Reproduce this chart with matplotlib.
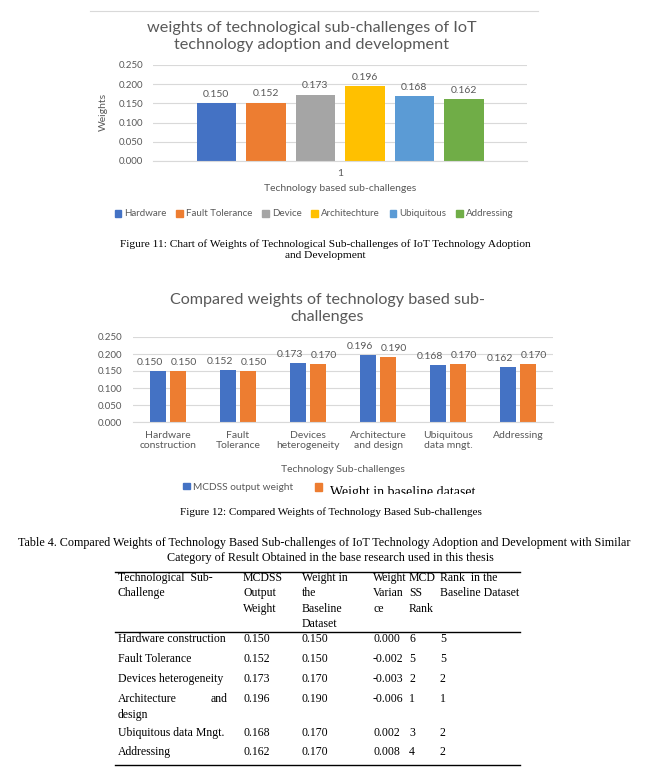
import matplotlib
matplotlib.use('Agg')
import matplotlib.pyplot as plt
from matplotlib.patches import Patch, Rectangle
from matplotlib.lines import Line2D
import numpy as np

# ---------------- data ----------------
legend_names = ['Hardware', 'Fault Tolerance', 'Device', 'Architechture', 'Ubiquitous', 'Addressing']
mcdss_weights = [0.150, 0.152, 0.173, 0.196, 0.168, 0.162]
baseline_weights = [0.150, 0.150, 0.170, 0.190, 0.170, 0.170]
cat_labels = ['Hardware\nconstruction', 'Fault\nTolerance', 'Devices\nheterogeneity',
              'Architecture\nand design', 'Ubiquitous\ndata mngt.', 'Addressing']
y_ticks = [0.0, 0.05, 0.10, 0.15, 0.20, 0.25]
series_names = ['MCDSS output weight', 'Weight in baseline dataset']
table_names = ['Hardware construction', 'Fault Tolerance', 'Devices heterogeneity',
               'Architecture and design', 'Ubiquitous data Mngt.', 'Addressing']
weight_variance = ['0.000', '-0.002', '-0.003', '-0.006', '0.002', '0.008']
mcdss_rank = [6, 5, 2, 1, 3, 4]
baseline_rank = [5, 5, 2, 1, 2, 2]
table_headers = [['Technological  Sub-', 'Challenge'],
                 ['MCDSS', 'Output', 'Weight'],
                 ['Weight in', 'the', 'Baseline', 'Dataset'],
                 ['Weight', 'Varian', 'ce'],
                 ['MCD', 'SS', 'Rank'],
                 ['Rank  in the', 'Baseline Dataset']]

# ---------------- style ----------------
W, H = 661, 774
fig = plt.figure(figsize=(W / 100, H / 100), dpi=100)
fig.patch.set_facecolor('white')

def fx(x):
    return x / W

def fy(y):
    return 1 - y / H

SANS = 'Lato'
SERIF = 'Liberation Serif'
TXT = '#595959'
GRID = '#D9D9D9'
colors1 = ['#4472C4', '#ED7D31', '#A5A5A5', '#FFC000', '#5B9BD5', '#70AD47']
BLUE, ORANGE = '#4472C4', '#ED7D31'

# thin border line at top of first chart
fig.add_artist(Line2D([fx(90), fx(538)], [fy(11), fy(11)], transform=fig.transFigure,
                      color=GRID, lw=0.8))

def style_axes(ax, pad):
    ax.set_ylim(0, 0.25)
    ax.set_yticks(y_ticks)
    ax.set_yticklabels([f'{t:.3f}' for t in y_ticks], fontsize=7, color=TXT, family=SANS)
    ax.tick_params(axis='both', length=0)
    ax.tick_params(axis='y', pad=pad)
    ax.yaxis.grid(True, color=GRID, lw=0.8)
    ax.set_axisbelow(True)
    for s in ['top', 'right', 'left']:
        ax.spines[s].set_visible(False)
    ax.spines['bottom'].set_color(GRID)
    ax.spines['bottom'].set_linewidth(0.8)

# ---------------- chart 1 ----------------
ax1 = fig.add_axes([fx(153), fy(161), (527 - 153) / W, (161 - 65) / H])
style_axes(ax1, 7)
n = len(mcdss_weights)
step = 49.5 / 374
bw = 39.5 / 374
pos1 = (np.arange(n) - (n - 1) / 2) * step
ax1.bar(pos1, mcdss_weights, width=bw, color=colors1, zorder=2)
ax1.set_xlim(-0.5, 0.5)
for x, v in zip(pos1, mcdss_weights):
    ax1.annotate(f'{v:.3f}', (x, v), xytext=(0, 3), textcoords='offset points',
                 ha='center', va='bottom', fontsize=7.5, color=TXT, family=SANS)
ax1.set_xticks([0])
ax1.set_xticklabels(['1'], fontsize=7.5, color=TXT, family=SANS)
ax1.tick_params(axis='x', pad=6)
ax1.set_xlabel('Technology based sub-challenges', fontsize=7.5, color=TXT, family=SANS, labelpad=4)
fig.text(fx(103), fy(112), 'Weights', rotation=90, ha='center', va='center',
         fontsize=7.5, color=TXT, family=SANS)
fig.text(fx(312), fy(28), 'weights of technological sub-challenges of IoT', ha='center', va='center',
         fontsize=11.7, color=TXT, family=SANS)
fig.text(fx(312), fy(45), 'technology adoption and development', ha='center', va='center',
         fontsize=11.7, color=TXT, family=SANS)
fig.legend(handles=[Patch(color=c) for c in colors1], labels=legend_names, loc='center',
           bbox_to_anchor=(fx(314), fy(214)), ncol=6, frameon=False,
           prop={'family': SANS, 'size': 7}, labelcolor=TXT,
           handlelength=0.7, handleheight=0.7, handletextpad=0.3, columnspacing=1.0)

fig.text(fx(325), fy(244), 'Figure 11: Chart of Weights of Technological Sub-challenges of IoT Technology Adoption',
         ha='center', va='center', fontsize=8.2, family=SERIF, color='black')
fig.text(fx(325), fy(256), 'and Development', ha='center', va='center', fontsize=8.2,
         family=SERIF, color='black')

# ---------------- chart 2 ----------------
ax2 = fig.add_axes([fx(133), fy(422), (553 - 133) / W, (422 - 337) / H])
style_axes(ax2, 8)
x2 = np.arange(n)
off = 10 / 70
bw2 = 16 / 70
ax2.bar(x2 - off, mcdss_weights, width=bw2, color=BLUE, zorder=2)
ax2.bar(x2 + off, baseline_weights, width=bw2, color=ORANGE, zorder=2)
ax2.set_xlim(-0.5, n - 0.5)
for x, v in zip(x2 - off, mcdss_weights):
    ax2.annotate(f'{v:.3f}', (x, v), xytext=(-6, 3), textcoords='offset points',
                 ha='center', va='bottom', fontsize=7.5, color=TXT, family=SANS)
for x, v in zip(x2 + off, baseline_weights):
    ax2.annotate(f'{v:.3f}', (x, v), xytext=(4, 3), textcoords='offset points',
                 ha='center', va='bottom', fontsize=7.5, color=TXT, family=SANS)
ax2.set_xticks(x2)
ax2.set_xticklabels(cat_labels, fontsize=7.5, color=TXT, family=SANS, linespacing=1.15)
ax2.tick_params(axis='x', pad=6.5)
ax2.set_xlabel('Technology Sub-challenges', fontsize=7.5, color=TXT, family=SANS, labelpad=11)
fig.text(fx(327), fy(300), 'Compared weights of technology based sub-', ha='center', va='center',
         fontsize=11.6, color=TXT, family=SANS)
fig.text(fx(327), fy(317), 'challenges', ha='center', va='center',
         fontsize=11.6, color=TXT, family=SANS)
fig.legend(handles=[Patch(color=BLUE)], labels=[series_names[0]],
           loc='center left', bbox_to_anchor=(fx(183), fy(487)), frameon=False,
           prop={'family': SANS, 'size': 7.3}, labelcolor=TXT, borderpad=0, borderaxespad=0,
           handlelength=0.65, handleheight=0.65, handletextpad=0.35)
fig.legend(handles=[Patch(color=ORANGE)], labels=[''],
           loc='center left', bbox_to_anchor=(fx(315), fy(488)), frameon=False,
           prop={'family': SANS, 'size': 7.3}, borderpad=0, borderaxespad=0,
           handlelength=0.7, handleheight=0.7, handletextpad=0.0)
fig.text(fx(330), fy(485.5), series_names[1], ha='left', va='top', fontsize=10,
         family=SERIF, color='black')
# the reference's last legend line is cut off at its lower part
fig.add_artist(Rectangle((fx(325), fy(503)), fx(170), (503 - 494) / H, transform=fig.transFigure,
                         facecolor='white', edgecolor='none', zorder=20))

fig.text(fx(331), fy(512), 'Figure 12: Compared Weights of Technology Based Sub-challenges',
         ha='center', va='center', fontsize=8.0, family=SERIF, color='black')

# ---------------- table ----------------
fig.text(fx(324), fy(543), 'Table 4. Compared Weights of Technology Based Sub-challenges of IoT Technology '
         'Adoption and Development with Similar', ha='center', va='center', fontsize=8.7,
         family=SERIF, color='black')
fig.text(fx(330), fy(558), 'Category of Result Obtained in the base research used in this thesis',
         ha='center', va='center', fontsize=8.7, family=SERIF, color='black')

col_x = [118, 243, 302, 373, 409, 440]
hdr_y = [578, 593, 609, 624]
TFS = 8.5
for cx, lines in zip(col_x, table_headers):
    for k, line in enumerate(lines):
        fig.text(fx(cx), fy(hdr_y[k]), line, ha='left', va='center', fontsize=TFS,
                 family=SERIF, color='black')

for yy in [572, 632, 765]:
    fig.add_artist(Line2D([fx(115), fx(520)], [fy(yy), fy(yy)], transform=fig.transFigure,
                          color='black', lw=1.0))

row_y = [639, 659, 679, 699, 733, 752]
for i, yy in enumerate(row_y):
    name = table_names[i]
    if name == 'Architecture and design':
        fig.text(fx(118), fy(yy), 'Architecture', ha='left', va='center', fontsize=TFS,
                 family=SERIF, color='black')
        fig.text(fx(227), fy(yy), 'and', ha='right', va='center', fontsize=TFS,
                 family=SERIF, color='black')
        fig.text(fx(118), fy(yy + 16), 'design', ha='left', va='center', fontsize=TFS,
                 family=SERIF, color='black')
    else:
        fig.text(fx(118), fy(yy), name, ha='left', va='center', fontsize=TFS,
                 family=SERIF, color='black')
    vals = [f'{mcdss_weights[i]:.3f}', f'{baseline_weights[i]:.3f}', weight_variance[i],
            str(mcdss_rank[i]), str(baseline_rank[i])]
    for cx, v in zip(col_x[1:], vals):
        fig.text(fx(cx), fy(yy), v, ha='left', va='center', fontsize=TFS,
                 family=SERIF, color='black')

fig.savefig('out.png', dpi=100, facecolor='white')
